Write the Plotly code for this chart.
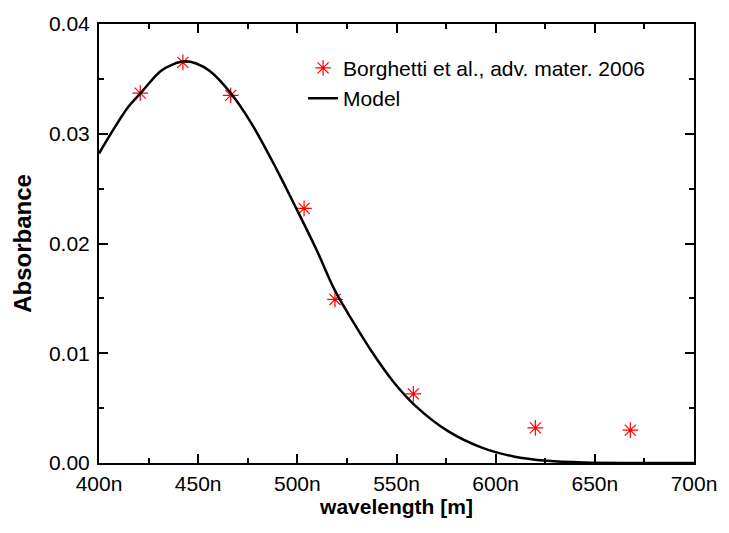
import plotly.graph_objects as go

# Measured data (Borghetti et al., adv. mater. 2006)
data_wavelength = [420.8, 442.3, 466.4, 503.4, 519.0, 558.5, 620.0, 667.9]
data_absorbance = [0.0337, 0.0365, 0.0335, 0.0232, 0.0149, 0.0063, 0.0032, 0.0030]

# Model curve
model_wavelength = [400, 408, 415, 421, 431, 437, 443, 449, 456, 466, 477, 490, 500,
                    510, 519, 528, 537, 548, 559, 576, 593, 609, 626, 645, 670, 700]
model_absorbance = [0.0282, 0.0306, 0.0325, 0.0337, 0.0357, 0.0363, 0.0366, 0.0364,
                    0.0357, 0.0338, 0.0309, 0.0266, 0.0230, 0.0193, 0.0157, 0.0129,
                    0.0103, 0.0075, 0.0053, 0.0029, 0.0014, 0.0006, 0.0002, 0.00004,
                    0.0, 0.0]

x_tick_values = [400, 450, 500, 550, 600, 650, 700]
x_tick_labels = ["400n", "450n", "500n", "550n", "600n", "650n", "700n"]
y_tick_values = [0.00, 0.01, 0.02, 0.03, 0.04]
y_tick_labels = ["0.00", "0.01", "0.02", "0.03", "0.04"]

FONT = "Liberation Sans, Arial, sans-serif"

fig = go.Figure()
fig.add_trace(go.Scatter(
    x=data_wavelength, y=data_absorbance, mode="markers",
    name="Borghetti et al., adv. mater. 2006",
    marker=dict(symbol="asterisk-open", size=13, color="#ff0000",
                line=dict(color="#ff2020", width=1.2)),
))
fig.add_trace(go.Scatter(
    x=model_wavelength, y=model_absorbance, mode="lines", name="Model",
    line=dict(color="black", width=2.5, shape="spline", smoothing=1.0),
))

axis_common = dict(
    showline=True, linecolor="black", linewidth=2, mirror="ticks",
    ticks="inside", ticklen=9, tickwidth=2, tickcolor="black",
    showgrid=False, zeroline=False,
    tickfont=dict(family=FONT, size=21, color="black"),
)

fig.update_layout(
    width=729, height=533,
    margin=dict(l=99, r=26, t=16, b=70),
    plot_bgcolor="white", paper_bgcolor="white",
    showlegend=True,
    legend=dict(x=0.343, y=0.946, xanchor="left", yanchor="top",
                bgcolor="rgba(0,0,0,0)", borderwidth=0,
                font=dict(family=FONT, size=21, color="black"),
                tracegroupgap=0),
    xaxis=dict(range=[400, 700], tickvals=x_tick_values, ticktext=x_tick_labels,
               minor=dict(dtick=25, ticks="inside", ticklen=5, tickwidth=2, tickcolor="black"),
               title=dict(text="<b>wavelength [m]</b>", font=dict(family=FONT, size=21, color="black"),
                          standoff=1),
               ticklabelstandoff=1,
               **axis_common),
    yaxis=dict(range=[0, 0.04], tickvals=y_tick_values, ticktext=y_tick_labels,
               minor=dict(dtick=0.005, ticks="inside", ticklen=5, tickwidth=2, tickcolor="black"),
               title=dict(text="<b>Absorbance</b>", font=dict(family=FONT, size=24, color="black"),
                          standoff=11),
               ticklabelstandoff=3,
               **axis_common),
)

fig.write_html("out.html", config={"displayModeBar": False},
               post_script="document.body.style.margin='0';")
